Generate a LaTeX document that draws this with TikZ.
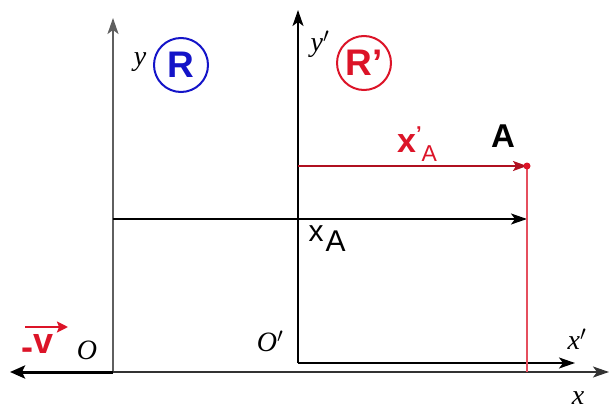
\documentclass[tikz,border=0pt]{standalone}
\usepackage{fontspec}
\setmainfont{Liberation Serif}
\setsansfont{Liberation Sans}
\usetikzlibrary{arrows.meta}
\definecolor{rblue}{RGB}{20,20,200}
\definecolor{rred}{RGB}{220,20,40}
\definecolor{axgray}{RGB}{95,95,95}
\begin{document}
\begin{tikzpicture}[x=1pt,y=-1pt,
  tip/.style={-{Stealth[length=16pt,width=11pt,inset=4pt]}},
  axis/.style={line width=1.6pt,tip},
  lbl/.style={font=\itshape\fontsize{28}{28}\selectfont,inner sep=0pt},
  frame/.style={circle,draw,line width=2pt,minimum size=54pt,inner sep=0pt,font=\sffamily\bfseries\fontsize{37}{37}\selectfont}]
\useasboundingbox (0,0) rectangle (615,412);
% coordinates
\coordinate (O) at (113,372);
\coordinate (Ytop) at (113,18);
\coordinate (Xend) at (609,372);
\coordinate (Vend) at (10,372);
\coordinate (Op) at (298,363);
\coordinate (Yptop) at (298,10);
\coordinate (Xpend) at (575,363);
\coordinate (XAs) at (113,219);
\coordinate (XAe) at (527,219);
\coordinate (XpAs) at (298,166);
\coordinate (Apt) at (527,166);
\coordinate (Abot) at (527,372);
% axes of R
\draw[axis,draw=axgray,line width=2pt] (O) -- (Ytop);
\draw[axis,draw=black!80] (O) -- (Xend);
\draw[-{Stealth[length=15pt,width=13pt,inset=3pt]},line width=3pt] (O) -- (Vend);
% axes of R'
\draw[axis] (Op) -- (Yptop);
\draw[axis] (Op) -- (Xpend);
% x_A
\draw[axis] (XAs) -- (XAe);
% x'_A
\draw[rred!80!black,line width=1.5pt,-{Stealth[length=14pt,width=10pt,inset=3pt]}] (XpAs) -- (Apt);
\draw[rred!75,line width=1.2pt] (Apt) -- (Abot);
\node[circle,fill=rred,inner sep=0pt,minimum size=7pt] (A) at (Apt) {};
% labels
\node[lbl] (Olbl) at (87,350) {O};
\node[lbl] (Oplbl) at (270,341) {O$'$};
\node[lbl] (xlbl) at (578,398) {x};
\node[lbl] (xplbl) at (577,339) {x$'$};
\node[lbl] (ylbl) at (140,62) {y};
\node[lbl] (yplbl) at (320,44) {y$'$};
\node[frame,draw=rblue,text=rblue] (R) at (181,65) {R};
\node[frame,draw=rred,text=rred] (Rp) at (364,63) {R'};
\node[inner sep=0pt,font=\sffamily\fontsize{30}{30}\selectfont] (XA) at (327,239) {x\hspace{2pt}\raisebox{-10pt}{A}};
\node[inner sep=0pt,font=\sffamily\bfseries\fontsize{33}{33}\selectfont] (Albl) at (503,136) {A};
\node[inner sep=0pt,text=rred,font=\sffamily\bfseries\fontsize{34}{34}\selectfont] (xpA) at (417,144) {x\raisebox{12pt}{\fontsize{20}{20}\selectfont '}\raisebox{-9pt}{\fontsize{23}{23}\selectfont\mdseries A}};
\node[inner sep=0pt,text=rred,font=\sffamily\bfseries\fontsize{36}{36}\selectfont] (vlbl) at (38,347) {\raisebox{-6pt}{-}v};
\coordinate (va) at (25,327);
\coordinate (vb) at (68,327);
\draw[rred,line width=2.5pt,-{Stealth[length=11pt,width=11pt,inset=2pt]}] (va) -- (vb);
\end{tikzpicture}
\end{document}
